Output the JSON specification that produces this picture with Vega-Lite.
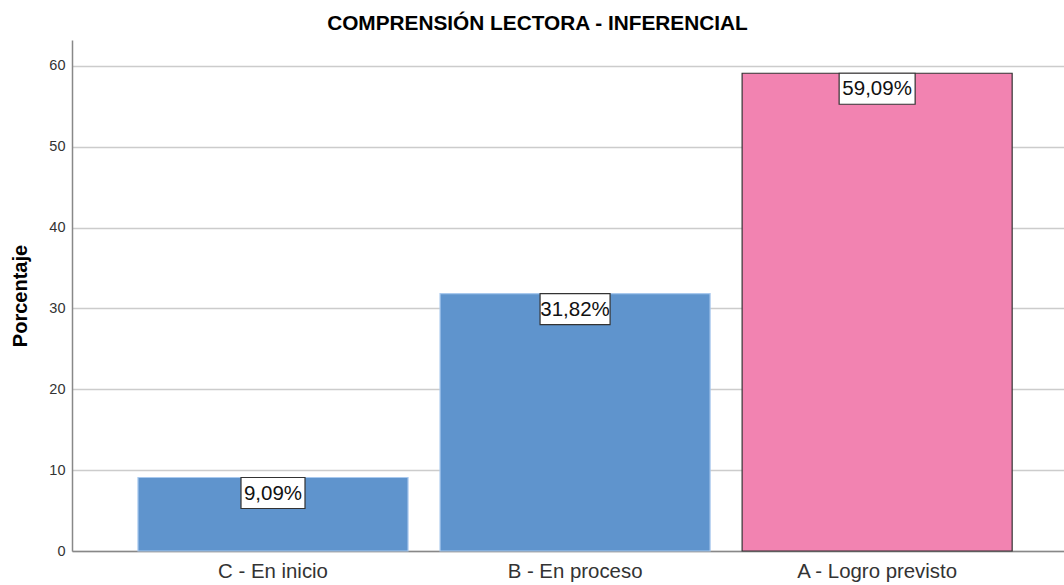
{
  "$schema": "https://vega.github.io/schema/vega-lite/v6.json",
  "width": 992,
  "height": 511,
  "autosize": "none",
  "padding": {"left": 72, "top": 40, "right": 0, "bottom": 34},
  "background": "white",
  "title": {
    "text": "COMPRENSIÓN LECTORA - INFERENCIAL",
    "font": "Liberation Sans",
    "fontSize": 20.8,
    "fontWeight": "bold",
    "color": "#000000",
    "anchor": "middle",
    "frame": "bounds",
    "offset": 5
  },
  "config": {
    "view": {"stroke": null},
    "font": "Liberation Sans"
  },
  "data": {
    "values": [
      {"categoria": "C - En inicio", "porcentaje": 9.09, "etiqueta": "9,09%"},
      {"categoria": "B - En proceso", "porcentaje": 31.82, "etiqueta": "31,82%"},
      {"categoria": "A - Logro previsto", "porcentaje": 59.09, "etiqueta": "59,09%"}
    ]
  },
  "encoding": {
    "x": {
      "field": "categoria",
      "type": "nominal",
      "sort": null,
      "scale": {"paddingInner": 0.106, "paddingOuter": 0.195, "align": 0.56},
      "axis": {
        "title": null,
        "labelAngle": 0,
        "labelFontSize": 20.4,
        "labelColor": "#333333",
        "labelPadding": 10,
        "ticks": false,
        "tickSize": 0,
        "domainColor": "#888888",
        "domainWidth": 1.5,
        "grid": false
      }
    },
    "y": {
      "field": "porcentaje",
      "type": "quantitative",
      "scale": {"domain": [0, 63.2], "nice": false},
      "axis": {
        "title": "Porcentaje",
        "titleFontSize": 20,
        "titleFontWeight": "bold",
        "titleColor": "#000000",
        "titlePadding": 18,
        "values": [0, 10, 20, 30, 40, 50, 60],
        "labelFontSize": 14.5,
        "labelColor": "#333333",
        "labelPadding": 7,
        "ticks": false,
        "tickSize": 0,
        "domainColor": "#888888",
        "domainWidth": 1.5,
        "gridColor": "#cccccc",
        "gridWidth": 1.3
      }
    }
  },
  "layer": [
    {
      "mark": {"type": "bar", "strokeWidth": 1.2},
      "encoding": {
        "fill": {
          "field": "categoria",
          "type": "nominal",
          "scale": {
            "domain": ["C - En inicio", "B - En proceso", "A - Logro previsto"],
            "range": ["#5f94cd", "#5f94cd", "#f283b1"]
          },
          "legend": null
        },
        "stroke": {
          "field": "categoria",
          "type": "nominal",
          "scale": {
            "domain": ["C - En inicio", "B - En proceso", "A - Logro previsto"],
            "range": ["#a9c9ee", "#a9c9ee", "#333333"]
          },
          "legend": null
        }
      }
    },
    {
      "mark": {
        "type": "tick",
        "orient": "horizontal",
        "thickness": 31,
        "yOffset": 15.5,
        "fill": "#ffffff",
        "fillOpacity": 1,
        "opacity": 1,
        "stroke": "#333333",
        "strokeWidth": 1.2
      },
      "encoding": {
        "size": {
          "field": "categoria",
          "type": "ordinal",
          "scale": {
            "domain": ["C - En inicio", "B - En proceso", "A - Logro previsto"],
            "range": [64, 76, 76]
          },
          "legend": null
        }
      }
    },
    {
      "mark": {
        "type": "text",
        "baseline": "middle",
        "align": "center",
        "dy": 16,
        "fontSize": 20.5,
        "color": "#111111"
      },
      "encoding": {
        "text": {"field": "etiqueta"}
      }
    }
  ]
}
